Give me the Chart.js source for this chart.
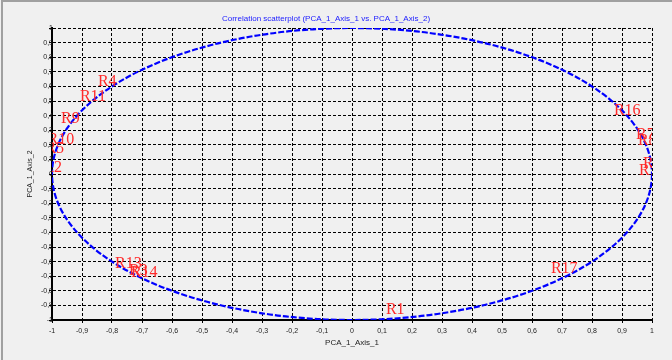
<!DOCTYPE html>
<html lang="en">
<head>
  <meta charset="UTF-8">
  <title>Correlation scatterplot</title>
  <style>
    body { margin: 0; background: #f0f0f0; }
    #wrap { width: 672px; height: 360px; }
  </style>
</head>
<body>
  <div id="wrap">
    <canvas id="myChart" width="672" height="360"></canvas>
  </div>

  <script src="https://cdn.jsdelivr.net/npm/chart.js"></script>
  <script>
    // variables placed on the correlation circle
    const varNames = ['R4', 'R11', 'R9', 'R10', 'R5', 'R2', 'R13', 'R3', 'R14', 'R1', 'R17', 'R16', 'R7', 'R8', 'R6', 'R15'];
    const pcaAxis1 = [-0.847, -0.907, -0.97, -1.015, -1.022, -1.029, -0.79, -0.743, -0.737, 0.113, 0.663, 0.873, 0.947, 0.953, 0.97, 0.957];
    const pcaAxis2 = [0.603, 0.5, 0.349, 0.205, 0.144, 0.014, -0.644, -0.692, -0.705, -0.959, -0.678, 0.404, 0.24, 0.199, 0.041, -0.007];

    const tickValues = [-1, -0.9, -0.8, -0.7, -0.6, -0.5, -0.4, -0.3, -0.2, -0.1, 0, 0.1, 0.2, 0.3, 0.4, 0.5, 0.6, 0.7, 0.8, 0.9, 1];
    const tickLabels = ['-1', '-0,9', '-0,8', '-0,7', '-0,6', '-0,5', '-0,4', '-0,3', '-0,2', '-0,1', '0', '0,1', '0,2', '0,3', '0,4', '0,5', '0,6', '0,7', '0,8', '0,9', '1'];

    const circleRadius = 1;

    const setTicks = scale => { scale.ticks = tickValues.map(v => ({ value: v })); };

    // background + panel edge, then circle and labels on top
    const corrPlugin = {
      id: 'corr',
      beforeDraw(chart) {
        const c = chart.ctx;
        c.save();
        c.fillStyle = '#f0f0f0';
        c.fillRect(0, 0, chart.width, chart.height);
        c.strokeStyle = '#a0a0a0';
        c.lineWidth = 2;
        c.beginPath();
        c.moveTo(2, chart.height);
        c.lineTo(2, 1);
        c.lineTo(chart.width, 1);
        c.stroke();
        c.restore();
      },
      afterDatasetsDraw(chart) {
        const c = chart.ctx;
        const xs = chart.scales.x, ys = chart.scales.y;
        const cx = xs.getPixelForValue(0), cy = ys.getPixelForValue(0);
        const rx = xs.getPixelForValue(circleRadius) - cx;
        const ry = cy - ys.getPixelForValue(circleRadius);
        const a = chart.chartArea;
        c.save();
        c.beginPath();
        c.rect(a.left, a.top, a.right - a.left, a.bottom - a.top);
        c.clip();
        c.strokeStyle = '#0000ff';
        c.lineWidth = 2.2;
        c.setLineDash([6, 2]);
        c.beginPath();
        c.ellipse(cx, cy, rx, ry, 0, 0, Math.PI * 2);
        c.stroke();
        c.setLineDash([]);
        c.fillStyle = '#ff2a2a';
        c.font = '16px "Liberation Serif", "Times New Roman", serif';
        c.textAlign = 'left';
        c.textBaseline = 'alphabetic';
        const meta = chart.getDatasetMeta(0);
        meta.data.forEach((pt, i) => {
          c.fillText(varNames[i], pt.x, pt.y);
        });
        c.restore();
      }
    };

    const ctx = document.getElementById('myChart').getContext('2d');
    new Chart(ctx, {
      type: 'scatter',
      data: {
        datasets: [{
          label: 'Variables',
          data: varNames.map((n, i) => ({ x: pcaAxis1[i], y: pcaAxis2[i] })),
          pointRadius: 0,
          pointHoverRadius: 0
        }]
      },
      options: {
        responsive: false,
        animation: false,
        events: [],
        layout: { padding: { left: 0, right: 20, top: 0, bottom: 0 } },
        plugins: {
          legend: { display: false },
          tooltip: { enabled: false },
          title: {
            display: true,
            text: 'Correlation scatterplot (PCA_1_Axis_1 vs. PCA_1_Axis_2)',
            color: '#2020ff',
            font: { family: '"Liberation Sans", Arial, sans-serif', size: 8, weight: 'normal' },
            padding: { top: 14, bottom: 4.4 }
          }
        },
        scales: {
          x: {
            type: 'linear',
            min: -1,
            max: 1,
            afterBuildTicks: setTicks,
            afterFit: s => { s.height = 40; },
            ticks: {
              autoSkip: false,
              maxRotation: 0,
              padding: 4,
              color: '#222',
              font: { family: '"Liberation Sans", Arial, sans-serif', size: 7 },
              callback: (v, i) => tickLabels[i]
            },
            grid: {
              color: '#000',
              tickLength: 3,
              tickColor: '#000',
              tickBorderDash: []
            },
            border: { display: true, color: '#000', width: 2, dash: [3, 2] },
            title: {
              display: true,
              text: 'PCA_1_Axis_1',
              color: '#222',
              font: { family: '"Liberation Sans", Arial, sans-serif', size: 8 },
              padding: { top: 0, bottom: 12 }
            }
          },
          y: {
            type: 'linear',
            min: -1,
            max: 1,
            afterBuildTicks: setTicks,
            afterFit: s => { s.width = 52; },
            ticks: {
              autoSkip: false,
              padding: -4,
              color: '#222',
              font: { family: '"Liberation Sans", Arial, sans-serif', size: 7 },
              callback: (v, i) => tickLabels[i]
            },
            grid: {
              color: '#000',
              tickLength: 3,
              tickColor: '#000',
              tickBorderDash: []
            },
            border: { display: true, color: '#000', width: 2, dash: [3, 2] },
            title: {
              display: true,
              text: 'PCA_1_Axis_2',
              color: '#222',
              font: { family: '"Liberation Sans", Arial, sans-serif', size: 7 },
              padding: { top: 26, bottom: 0 }
            }
          }
        }
      },
      plugins: [corrPlugin]
    });
  </script>
</body>
</html>
